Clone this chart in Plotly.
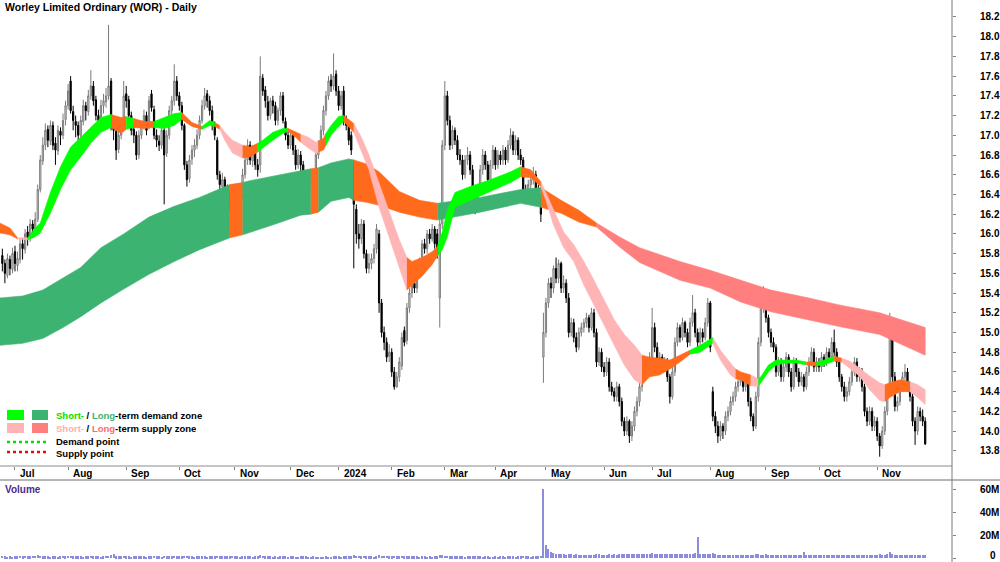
import plotly.graph_objects as go

title = "Worley Limited Ordinary (WOR) - Daily"

# first trading day of each month (trading-day index) and labels
month_idx = [5, 26, 49, 70, 92, 114, 133, 154, 175, 195, 215, 238, 257, 280, 302, 323, 346]
month_lbl = ['Jul', 'Aug', 'Sep', 'Oct', 'Nov', 'Dec', '2024', 'Feb', 'Mar', 'Apr', 'May',
             'Jun', 'Jul', 'Aug', 'Sep', 'Oct', 'Nov']
price_ticks = [13.8, 14.0, 14.2, 14.4, 14.6, 14.8, 15.0, 15.2, 15.4, 15.6, 15.8, 16.0,
               16.2, 16.4, 16.6, 16.8, 17.0, 17.2, 17.4, 17.6, 17.8, 18.0, 18.2]
vol_ticks = [0, 20, 40, 60]
vol_tick_text = ['0', '20M', '40M', '60M']

opens = [
    15.78,15.70,15.58,15.74,15.64,15.82,15.68,15.74,15.90,15.84,
    16.02,15.96,16.10,16.04,16.15,16.45,16.74,16.90,17.06,16.94,
    17.10,16.92,16.84,17.04,17.00,17.16,17.30,17.55,17.24,17.14,
    17.10,17.00,17.14,17.30,17.24,17.40,17.50,17.36,17.20,17.14,
    17.30,17.34,17.40,17.55,17.10,17.04,16.86,17.00,17.10,17.42,
    17.36,17.20,17.06,17.00,16.80,17.00,17.10,17.20,17.10,17.42,
    17.26,17.00,16.94,16.90,17.05,16.82,17.00,17.25,17.35,17.55,
    17.40,17.30,17.10,16.70,16.56,16.76,16.85,16.90,17.00,17.15,
    17.30,17.42,17.35,17.25,17.10,16.95,16.60,16.48,16.55,16.44,
    16.40,16.30,16.14,16.25,16.34,16.40,16.60,16.75,16.90,16.74,
    16.85,16.70,16.70,17.58,17.46,17.34,17.20,17.35,17.30,17.15,
    17.25,17.40,17.14,17.00,16.90,17.00,16.85,16.70,16.80,16.70,
    16.55,16.44,16.55,16.60,16.55,16.80,16.90,17.05,17.25,17.40,
    17.56,17.50,17.62,17.45,17.30,17.45,17.15,17.10,17.00,16.70,
    16.25,16.00,15.95,16.10,15.80,15.65,15.70,15.75,15.85,16.00,
    15.30,15.00,14.90,14.76,14.80,14.60,14.45,14.55,14.66,15.02,
    14.92,15.25,15.40,15.50,15.45,15.60,15.70,15.90,15.85,16.00,
    15.95,16.05,16.00,15.35,16.10,16.90,17.40,17.15,16.90,17.05,
    16.95,16.80,16.75,16.60,16.75,16.80,16.65,16.40,16.30,16.45,
    16.65,16.80,16.70,16.55,16.70,16.85,16.70,16.80,16.75,16.85,
    16.75,16.90,17.00,16.85,16.95,16.80,16.75,16.45,16.40,16.50,
    16.55,16.60,16.45,16.35,14.75,15.00,15.30,15.50,15.45,15.65,
    15.55,15.70,15.45,15.50,15.35,15.00,15.10,14.95,14.85,15.00,
    15.05,15.10,15.15,15.05,15.20,15.00,14.70,14.80,14.65,14.60,
    14.70,14.45,14.40,14.35,14.45,14.30,14.10,14.00,14.10,13.95,
    14.05,14.20,14.30,14.45,14.55,14.70,14.60,14.75,15.05,14.85,
    14.70,14.75,14.65,14.70,14.55,14.35,14.60,14.90,15.05,14.95,
    15.10,15.00,14.90,15.10,15.20,15.00,14.90,15.00,14.95,15.10,
    15.30,14.40,14.15,14.05,13.95,14.05,14.00,14.15,14.20,14.30,
    14.35,14.45,14.50,14.55,14.45,14.50,14.30,14.15,14.05,14.35,
    14.90,15.25,15.40,15.15,15.00,14.90,14.85,14.60,14.70,14.55,
    14.65,14.75,14.60,14.45,14.70,14.60,14.50,14.55,14.45,14.60,
    14.70,14.80,14.65,14.70,14.65,14.75,14.70,14.80,14.75,14.90,
    14.80,14.70,14.55,14.45,14.35,14.40,14.50,14.60,14.70,14.55,
    14.60,14.45,14.20,14.10,14.20,14.05,14.10,13.95,13.85,14.00,
    14.20,14.40,15.10,14.55,14.25,14.30,14.45,14.55,14.60,14.45,
    14.35,14.10,14.00,14.20,14.15,14.10,
]

highs = [
    15.85,15.74,15.80,15.78,15.86,15.88,15.82,15.95,15.96,16.05,
    16.08,16.15,16.14,16.22,16.50,16.80,16.98,17.12,17.10,17.15,
    17.14,16.98,17.10,17.08,17.22,17.35,17.52,17.60,17.30,17.20,
    17.14,17.20,17.36,17.34,17.46,17.66,17.55,17.40,17.26,17.36,
    17.42,17.48,18.12,17.58,17.16,17.08,17.05,17.16,17.55,17.50,
    17.40,17.24,17.12,17.04,17.05,17.15,17.26,17.24,17.40,17.46,
    17.30,17.06,17.00,17.10,17.08,17.05,17.30,17.40,17.72,17.60,
    17.44,17.34,17.12,16.74,16.80,16.90,16.96,17.06,17.20,17.36,
    17.48,17.46,17.40,17.30,17.14,16.98,16.64,16.62,16.58,16.50,
    16.44,16.34,16.32,16.42,16.46,16.66,16.80,16.96,16.94,16.90,
    16.90,16.76,17.80,17.62,17.50,17.40,17.38,17.40,17.34,17.28,
    17.44,17.44,17.18,17.06,17.05,17.04,16.90,16.86,16.84,16.74,
    16.60,16.60,16.66,16.64,16.85,16.95,17.10,17.30,17.45,17.60,
    17.62,17.83,17.66,17.50,17.45,17.50,17.20,17.14,17.04,16.75,
    16.30,16.10,16.15,16.14,15.84,15.80,15.80,15.90,16.10,16.04,
    15.34,15.06,14.95,14.88,14.84,14.65,14.60,14.75,15.00,15.06,
    15.30,15.45,15.56,15.55,15.65,15.76,15.94,15.95,16.04,16.05,
    16.10,16.08,16.05,16.15,16.95,17.55,17.45,17.20,17.10,17.08,
    17.00,16.86,16.80,16.80,16.88,16.84,16.70,16.45,16.50,16.70,
    16.86,16.84,16.74,16.75,16.90,16.88,16.85,16.84,16.90,16.88,
    16.95,17.07,17.04,17.00,16.98,16.86,16.78,16.50,16.55,16.62,
    16.68,16.64,16.50,16.40,15.20,15.35,15.55,15.56,15.68,15.76,
    15.74,15.72,15.58,15.54,15.40,15.15,15.14,15.00,15.05,15.10,
    15.14,15.20,15.18,15.25,15.24,15.04,14.85,14.84,14.70,14.75,
    14.74,14.50,14.44,14.50,14.48,14.34,14.14,14.15,14.12,14.10,
    14.25,14.35,14.50,14.60,14.74,14.74,14.80,15.25,15.10,14.90,
    14.80,14.78,14.75,14.74,14.58,14.65,14.95,15.10,15.08,15.15,
    15.12,15.04,15.15,15.38,15.24,15.04,15.05,15.04,15.15,15.35,
    15.32,14.45,14.20,14.10,14.10,14.08,14.20,14.25,14.35,14.40,
    14.50,14.55,14.60,14.58,14.54,14.52,14.34,14.18,14.40,14.95,
    15.30,15.47,15.44,15.18,15.04,14.95,14.88,14.75,14.74,14.70,
    14.80,14.78,14.64,14.75,14.74,14.64,14.60,14.58,14.65,14.75,
    14.85,14.84,14.75,14.74,14.80,14.78,14.85,14.84,14.95,15.03,
    14.84,14.74,14.58,14.50,14.45,14.55,14.65,14.75,14.74,14.65,
    14.64,14.48,14.24,14.25,14.24,14.15,14.14,13.98,14.05,14.25,
    14.45,15.20,15.14,14.60,14.35,14.50,14.60,14.68,14.64,14.50,
    14.38,14.14,14.25,14.24,14.22,14.14,
]

lows = [
    15.62,15.50,15.55,15.58,15.60,15.62,15.62,15.70,15.74,15.80,
    15.88,15.92,15.96,16.00,16.12,16.42,16.70,16.85,16.88,16.90,
    16.85,16.70,16.80,16.90,16.96,17.10,17.26,17.22,17.05,16.98,
    16.92,16.96,17.10,17.15,17.20,17.36,17.30,17.15,17.08,17.10,
    17.22,17.28,17.36,17.05,16.95,16.75,16.82,16.96,17.06,17.28,
    17.15,17.00,16.92,16.75,16.76,16.96,17.06,17.00,17.06,17.24,
    16.96,16.88,16.84,16.86,16.30,16.78,16.96,17.20,17.30,17.35,
    17.25,17.05,16.65,16.48,16.52,16.70,16.78,16.86,16.96,17.12,
    17.26,17.28,17.20,17.05,16.95,16.55,16.40,16.44,16.38,16.32,
    16.22,16.05,16.10,16.20,16.28,16.36,16.56,16.70,16.70,16.68,
    16.65,16.58,16.62,17.40,17.28,17.15,17.16,17.22,17.10,17.10,
    17.20,17.12,16.95,16.86,16.86,16.80,16.65,16.66,16.62,16.50,
    16.35,16.40,16.50,16.45,16.52,16.76,16.86,17.00,17.20,17.36,
    17.44,17.46,17.40,17.25,17.26,17.10,17.05,16.90,16.80,15.65,
    15.90,15.85,15.90,15.75,15.60,15.60,15.64,15.70,15.80,15.20,
    14.95,14.82,14.70,14.70,14.55,14.42,14.44,14.50,14.62,14.86,
    14.88,15.20,15.35,15.40,15.40,15.55,15.65,15.80,15.80,15.90,
    15.92,15.85,15.75,15.05,16.05,16.85,17.10,16.85,16.86,16.90,
    16.75,16.70,16.55,16.56,16.70,16.60,16.35,16.20,16.26,16.40,
    16.60,16.65,16.50,16.50,16.66,16.65,16.66,16.70,16.70,16.70,
    16.72,16.86,16.80,16.80,16.75,16.70,16.40,16.32,16.36,16.45,
    16.50,16.40,16.30,16.12,14.49,14.95,15.25,15.35,15.40,15.50,
    15.50,15.40,15.40,15.30,14.95,14.96,14.90,14.80,14.82,14.96,
    15.00,15.05,15.00,15.02,14.95,14.65,14.66,14.60,14.55,14.56,
    14.40,14.36,14.30,14.30,14.25,14.05,13.95,13.96,13.88,13.90,
    14.00,14.15,14.25,14.40,14.50,14.55,14.56,14.70,14.80,14.65,
    14.66,14.60,14.60,14.50,14.28,14.32,14.56,14.86,14.90,14.92,
    14.95,14.85,14.86,15.06,14.95,14.85,14.86,14.90,14.92,15.06,
    14.80,14.10,13.98,13.88,13.90,13.92,13.96,14.10,14.16,14.26,
    14.30,14.40,14.46,14.40,14.40,14.25,14.10,14.00,14.02,14.30,
    14.86,15.20,15.10,14.95,14.85,14.80,14.55,14.56,14.50,14.50,
    14.60,14.55,14.40,14.42,14.55,14.45,14.46,14.40,14.42,14.56,
    14.66,14.60,14.60,14.60,14.60,14.65,14.66,14.70,14.70,14.76,
    14.65,14.50,14.40,14.30,14.30,14.36,14.46,14.56,14.50,14.50,
    14.40,14.15,14.05,14.06,14.00,14.00,13.90,13.74,13.82,13.96,
    14.16,14.36,14.50,14.20,14.20,14.26,14.40,14.50,14.40,14.30,
    14.05,13.86,13.96,14.10,14.05,13.86,
]

closes = [
    15.70,15.60,15.75,15.65,15.80,15.70,15.75,15.90,15.85,16.00,
    15.95,16.10,16.05,16.15,16.45,16.75,16.90,17.05,16.95,17.10,
    16.90,16.85,17.05,17.00,17.15,17.30,17.45,17.25,17.15,17.10,
    17.00,17.15,17.30,17.25,17.40,17.50,17.35,17.20,17.15,17.30,
    17.35,17.40,17.50,17.10,17.05,16.85,17.00,17.10,17.40,17.35,
    17.20,17.05,17.00,16.80,17.00,17.10,17.20,17.05,17.35,17.28,
    17.00,16.95,16.90,17.05,16.80,17.00,17.25,17.35,17.55,17.40,
    17.30,17.10,16.70,16.55,16.75,16.85,16.90,17.00,17.15,17.30,
    17.40,17.35,17.25,17.10,17.00,16.60,16.50,16.55,16.45,16.40,
    16.30,16.15,16.25,16.35,16.40,16.60,16.75,16.90,16.75,16.85,
    16.70,16.65,17.60,17.45,17.35,17.20,17.35,17.30,17.15,17.25,
    17.40,17.15,17.00,16.90,17.00,16.85,16.70,16.80,16.70,16.55,
    16.45,16.55,16.60,16.55,16.80,16.90,17.05,17.25,17.40,17.55,
    17.50,17.60,17.45,17.30,17.40,17.15,17.10,16.95,16.85,16.30,
    16.00,15.95,16.10,15.80,15.65,15.70,15.75,15.85,16.05,15.30,
    15.00,14.90,14.75,14.80,14.60,14.45,14.55,14.70,14.95,14.90,
    15.25,15.40,15.50,15.45,15.60,15.70,15.90,15.85,16.00,15.95,
    16.05,15.90,15.80,16.10,16.90,17.40,17.15,16.90,17.05,16.95,
    16.80,16.75,16.60,16.75,16.80,16.65,16.40,16.30,16.45,16.65,
    16.80,16.70,16.55,16.70,16.85,16.70,16.80,16.75,16.85,16.75,
    16.90,17.00,16.85,16.95,16.80,16.75,16.45,16.40,16.50,16.55,
    16.60,16.45,16.35,16.20,15.00,15.30,15.50,15.45,15.65,15.55,
    15.70,15.45,15.50,15.35,15.00,15.10,14.95,14.85,15.00,15.05,
    15.10,15.15,15.05,15.20,15.00,14.70,14.80,14.65,14.60,14.70,
    14.45,14.40,14.35,14.45,14.30,14.10,14.00,14.10,13.95,14.05,
    14.20,14.30,14.45,14.55,14.70,14.60,14.75,15.05,14.85,14.70,
    14.75,14.65,14.70,14.55,14.35,14.60,14.90,15.05,14.95,15.10,
    15.00,14.90,15.10,15.20,15.00,14.90,15.00,14.95,15.10,15.30,
    14.85,14.15,14.05,13.95,14.05,14.00,14.15,14.20,14.30,14.35,
    14.45,14.50,14.55,14.45,14.50,14.30,14.15,14.05,14.35,14.90,
    15.25,15.40,15.15,15.00,14.90,14.85,14.60,14.70,14.55,14.65,
    14.75,14.60,14.45,14.70,14.60,14.50,14.55,14.45,14.60,14.70,
    14.80,14.65,14.70,14.65,14.75,14.70,14.80,14.75,14.90,14.80,
    14.70,14.55,14.45,14.35,14.40,14.50,14.60,14.70,14.55,14.60,
    14.45,14.20,14.10,14.20,14.05,14.10,13.95,13.85,14.00,14.20,
    14.40,15.05,14.55,14.25,14.30,14.45,14.55,14.60,14.45,14.35,
    14.10,14.00,14.20,14.15,14.10,13.87,
]

volume_m = [
    1.8,1.5,1.3,1.6,1.2,1.4,1.7,2.1,1.5,1.9,1.6,1.4,1.8,2.0,2.4,1.9,1.7,1.5,1.6,1.3,
    1.4,1.6,1.2,1.5,1.8,1.6,1.9,2.2,1.7,1.5,1.4,1.6,1.3,1.5,1.7,1.9,1.6,1.4,1.5,1.3,
    1.6,1.8,2.1,2.4,3.6,1.7,1.5,1.4,1.8,1.6,1.5,1.3,1.4,1.6,1.5,1.7,1.4,1.3,1.5,1.6,
    1.8,1.5,1.4,1.3,2.0,1.6,1.5,1.4,1.9,1.6,1.5,1.7,2.1,1.8,1.6,1.4,1.3,1.5,1.4,1.6,
    1.5,1.3,1.4,1.6,1.5,1.9,1.7,1.5,1.4,1.6,1.5,1.8,1.6,1.4,1.3,1.5,1.4,1.6,1.5,1.3,
    1.4,1.5,2.3,1.8,1.6,1.4,1.5,1.3,1.4,1.2,1.5,1.6,1.4,1.3,1.5,1.4,1.3,1.2,1.4,1.5,
    1.6,1.3,1.2,1.4,1.3,1.1,1.0,1.2,1.4,1.3,1.2,1.6,1.4,1.5,1.3,1.6,1.4,1.5,1.7,2.6,
    2.0,1.8,1.6,1.9,1.7,1.5,1.4,1.3,1.5,2.4,2.1,1.9,1.8,1.6,1.7,1.9,1.6,1.5,1.8,1.6,
    1.7,1.5,1.4,1.6,1.5,1.3,1.4,1.5,1.3,1.4,1.2,1.5,1.6,2.8,2.5,2.2,1.9,1.7,1.6,1.5,
    1.4,1.6,1.5,1.3,1.4,1.5,1.7,1.6,1.4,1.5,1.3,1.4,1.5,1.3,1.2,1.4,1.3,1.5,1.4,1.3,
    1.4,1.6,1.5,1.3,1.4,1.5,1.8,1.6,1.4,1.3,1.5,1.6,1.7,1.9,60.5,11.2,7.6,5.1,4.2,3.6,
    3.4,3.8,3.2,3.1,3.9,3.3,3.0,3.2,2.9,3.1,2.8,3.0,2.9,2.7,3.1,3.6,3.2,3.0,2.8,3.1,
    3.3,3.0,3.2,2.9,3.4,3.6,3.8,3.5,3.9,3.7,3.4,3.6,3.3,3.8,3.5,3.9,3.6,4.2,3.8,3.5,
    3.6,3.4,3.8,3.5,3.9,3.6,3.7,3.9,3.5,3.8,3.6,3.4,3.7,3.9,4.1,18.2,3.6,3.4,3.3,3.5,
    3.8,4.2,3.4,3.1,2.9,2.8,2.6,2.7,2.5,2.8,2.6,2.4,2.5,2.7,2.6,2.8,3.0,2.9,3.2,3.5,
    3.1,2.9,3.3,2.8,2.7,2.6,2.9,2.5,2.7,2.4,2.6,2.5,2.8,2.6,2.7,2.5,2.9,5.0,3.0,2.6,
    2.8,2.6,2.7,2.5,2.8,2.6,2.4,2.7,2.5,2.9,2.6,2.8,2.7,2.5,2.4,2.6,2.5,2.7,2.4,2.6,
    2.7,2.9,2.6,2.5,2.8,2.6,2.9,3.2,2.8,3.0,3.4,5.3,3.6,3.1,2.9,2.7,2.6,2.5,2.8,2.7,
    3.0,2.9,2.6,2.8,2.5,2.7,
]

# Short-term zone: sample index, upper edge, lower edge, state of the following stretch
# D = demand, S = supply, T = transition
st_idx = [-1, 3, 6, 10, 13, 15, 19, 23, 27, 31, 35, 39, 43, 47, 49, 52, 56, 60, 64, 68,
          71, 75, 79, 82, 84, 86, 88, 91, 95, 98, 101, 103, 107, 111, 113, 116, 118, 121, 124, 125,
          127, 128, 130, 133, 135, 137, 139, 142, 145, 149, 153, 157, 160, 162, 166, 170, 172, 174, 176, 179,
          185, 193, 201, 205, 209, 213, 215, 218, 222, 226, 230, 234, 238, 242, 246, 250, 253, 256, 260, 264,
          268, 272, 276, 281, 284, 288, 290, 292, 296, 299, 300, 303, 306, 310, 314, 318, 322, 325, 329, 332,
          335, 339, 343, 347, 349, 351, 355, 359, 362, 365]
st_hi = [16.11, 16.06, 15.96, 15.96, 16.06, 16.11, 16.42, 16.68, 16.88, 16.98, 17.08, 17.18, 17.21, 17.18, 17.19, 17.17, 17.14, 17.14, 17.18, 17.22,
         17.23, 17.13, 17.09, 17.15, 17.13, 17.10, 17.03, 16.95, 16.90, 16.88, 16.92, 16.95, 17.03, 17.07, 17.07, 17.03, 17.01, 16.98, 16.93, 16.94,
         16.97, 17.02, 17.10, 17.19, 17.20, 17.16, 17.12, 16.98, 16.80, 16.52, 16.24, 15.94, 15.76, 15.72, 15.76, 15.82, 15.87, 16.02, 16.24, 16.42,
         16.48, 16.55, 16.63, 16.68, 16.65, 16.53, 16.42, 16.24, 16.02, 15.89, 15.72, 15.53, 15.33, 15.13, 14.98, 14.87, 14.77, 14.75, 14.74, 14.72,
         14.77, 14.82, 14.87, 14.95, 14.82, 14.69, 14.63, 14.60, 14.57, 14.53, 14.55, 14.67, 14.72, 14.72, 14.72, 14.70, 14.70, 14.72, 14.76, 14.74,
         14.71, 14.64, 14.56, 14.49, 14.47, 14.49, 14.52, 14.50, 14.47, 14.42]
st_lo = [16.01, 15.99, 15.95, 15.94, 15.97, 16.01, 16.21, 16.45, 16.65, 16.78, 16.92, 17.03, 17.08, 17.02, 17.06, 17.08, 17.07, 17.08, 17.07, 17.10,
         17.16, 17.09, 17.06, 17.10, 17.09, 17.06, 16.95, 16.82, 16.77, 16.78, 16.83, 16.87, 16.95, 17.02, 17.04, 16.98, 16.93, 16.87, 16.82, 16.83,
         16.85, 16.90, 17.00, 17.09, 17.14, 17.08, 17.03, 16.85, 16.65, 16.27, 15.97, 15.66, 15.43, 15.48, 15.57, 15.69, 15.77, 15.84, 15.97, 16.27,
         16.34, 16.43, 16.52, 16.58, 16.57, 16.48, 16.34, 16.09, 15.86, 15.72, 15.48, 15.28, 15.08, 14.87, 14.67, 14.52, 14.47, 14.55, 14.57, 14.63,
         14.70, 14.78, 14.80, 14.89, 14.72, 14.57, 14.53, 14.52, 14.46, 14.45, 14.49, 14.60, 14.67, 14.69, 14.69, 14.67, 14.66, 14.67, 14.71, 14.70,
         14.64, 14.56, 14.42, 14.31, 14.30, 14.34, 14.40, 14.40, 14.34, 14.27]
st_state = ['T', 'T', 'S', 'D', 'D', 'D', 'D', 'D', 'D', 'D', 'D', 'D', 'T', 'T', 'D', 'T', 'T', 'D', 'D', 'D',
            'T', 'T', 'D', 'D', 'T', 'S', 'S', 'S', 'T', 'T', 'D', 'D', 'D', 'D', 'T', 'T', 'S', 'S', 'S', 'T',
            'T', 'D', 'D', 'D', 'T', 'T', 'S', 'S', 'S', 'S', 'S', 'S', 'T', 'T', 'T', 'T', 'D', 'D', 'D', 'D',
            'D', 'D', 'D', 'T', 'T', 'S', 'S', 'S', 'S', 'S', 'S', 'S', 'S', 'S', 'S', 'S', 'T', 'T', 'T', 'T',
            'T', 'D', 'D', 'S', 'S', 'S', 'T', 'T', 'S', 'D', 'D', 'D', 'D', 'D', 'D', 'T', 'D', 'D', 'T', 'S',
            'S', 'S', 'S', 'S', 'T', 'T', 'T', 'S', 'S', 'S']

# Long-term zone
lt_idx = [-1, 8, 16, 24, 31, 39, 48, 58, 68, 78, 90, 95, 98, 108, 118, 122, 125, 130, 137, 139,
          144, 149, 157, 165, 172, 180, 189, 205, 213, 221, 228, 235, 244, 252, 268, 280,
          292, 304, 319, 331, 347, 365]
lt_hi = [15.35, 15.37, 15.43, 15.55, 15.66, 15.86, 16.00, 16.17, 16.28, 16.37, 16.50, 16.52, 16.54, 16.59, 16.64, 16.66, 16.67, 16.72, 16.76, 16.75,
         16.71, 16.63, 16.43, 16.34, 16.31, 16.34, 16.37, 16.45, 16.47, 16.34, 16.24, 16.11, 15.97, 15.86, 15.72, 15.63,
         15.53, 15.43, 15.35, 15.28, 15.20, 15.05]
lt_lo = [14.87, 14.89, 14.94, 15.05, 15.16, 15.30, 15.44, 15.59, 15.72, 15.84, 15.96, 15.99, 16.01, 16.10, 16.19, 16.20, 16.22, 16.33, 16.37, 16.34,
         16.32, 16.29, 16.22, 16.17, 16.14, 16.18, 16.22, 16.31, 16.27, 16.21, 16.12, 16.07, 15.87, 15.71, 15.53, 15.45,
         15.31, 15.21, 15.13, 15.06, 14.98, 14.77]
lt_state = ['D', 'D', 'D', 'D', 'D', 'D', 'D', 'D', 'D', 'D', 'T', 'D', 'D', 'D', 'D', 'T', 'D', 'D', 'D', 'T',
            'T', 'T', 'T', 'T', 'D', 'D', 'D', 'D', 'T', 'T', 'T', 'S', 'S', 'S', 'S', 'S',
            'S', 'S', 'S', 'S', 'S', 'S']

# ---------------------------------------------------------------- styling
W, H = 1000, 562
PLOT_W = 952
MAIN_BOTTOM_PX = 466
VOL_TOP_PX = 480
FONT = 'Liberation Sans'

def px_x(p):
    return p / PLOT_W

def px_y(p):
    return 1 - p / H

ST_COL = {'D': '#00FF00', 'S': '#FFB5B5', 'T': '#FF6A1C'}
LT_COL = {'D': '#3CB371', 'S': '#FF7F7F', 'T': '#FF6A1C'}

fig = go.Figure()


def add_zone(idx, hi, lo, state, colors):
    n = len(idx)
    start = 0
    for k in range(1, n):
        if k == n - 1 or state[k] != state[start]:
            xs = idx[start:k + 1]
            ys_hi = hi[start:k + 1]
            ys_lo = lo[start:k + 1]
            col = colors[state[start]]
            fig.add_trace(go.Scatter(
                x=xs + xs[::-1], y=ys_hi + ys_lo[::-1], fill='toself', mode='lines',
                line=dict(color=col, width=0.6), fillcolor=col, hoverinfo='skip',
                xaxis='x', yaxis='y'))
            start = k


add_zone(lt_idx, lt_hi, lt_lo, lt_state, LT_COL)
add_zone(st_idx, st_hi, st_lo, st_state, ST_COL)

days = list(range(len(closes)))
fig.add_trace(go.Candlestick(
    x=days, open=opens, high=highs, low=lows, close=closes,
    increasing=dict(line=dict(color='#7A7A7A', width=1), fillcolor='#E8E8E8'),
    decreasing=dict(line=dict(color='#000000', width=1), fillcolor='#000000'),
    whiskerwidth=0, hoverinfo='skip', xaxis='x', yaxis='y'))

fig.add_trace(go.Bar(x=list(range(len(volume_m))), y=volume_m, marker=dict(color='#8C8CDC', line=dict(width=0)),
                     width=0.45, hoverinfo='skip', xaxis='x2', yaxis='y2'))

x_range = [-0.93, 375.6]
tick_font = dict(family=FONT, size=10, color='#000000', weight='bold')

fig.update_layout(
    width=W, height=H, margin=dict(l=0, r=W - PLOT_W, t=0, b=0),
    paper_bgcolor='white', plot_bgcolor='white', showlegend=False,
    xaxis=dict(domain=[0, 1], range=x_range, tickvals=month_idx, ticktext=[''] * len(month_idx),
               ticks='outside', ticklen=3, tickcolor='#808080', showgrid=False, zeroline=False,
               showline=False, rangeslider=dict(visible=False), anchor='y'),
    yaxis=dict(domain=[px_y(MAIN_BOTTOM_PX), 1], range=[13.646, 18.372], side='right',
               tickvals=price_ticks, ticktext=['%.1f' % v for v in price_ticks],
               ticks='outside', ticklen=3, tickcolor='#808080', showgrid=False, zeroline=False,
               showline=False, tickfont=tick_font, ticklabelstandoff=22, anchor='x'),
    xaxis2=dict(domain=[0, 1], range=x_range, showticklabels=False, ticks='', showgrid=False,
                zeroline=False, showline=False, anchor='y2'),
    yaxis2=dict(domain=[0, px_y(VOL_TOP_PX)], range=[-3.5, 68.8], side='right',
                tickvals=vol_ticks, ticktext=[''] + vol_tick_text[1:], ticks='outside', ticklen=3,
                tickcolor='#808080', showgrid=False, zeroline=False, showline=False,
                tickfont=tick_font, ticklabelstandoff=22, anchor='x2'),
    bargap=0,
)

shapes = [
    dict(type='line', xref='paper', yref='paper', x0=0, x1=1, y0=px_y(MAIN_BOTTOM_PX), y1=px_y(MAIN_BOTTOM_PX),
         line=dict(color='#8C8C8C', width=1)),
    dict(type='line', xref='paper', yref='paper', x0=0, x1=W / PLOT_W, y0=px_y(VOL_TOP_PX), y1=px_y(VOL_TOP_PX),
         line=dict(color='#6E6E6E', width=1)),
    dict(type='line', xref='paper', yref='paper', x0=1, x1=1, y0=0, y1=1,
         line=dict(color='#7A7A7A', width=1)),
    # legend swatches
    dict(type='rect', xref='paper', yref='paper', x0=px_x(7), x1=px_x(24), y0=px_y(420), y1=px_y(410),
         fillcolor=ST_COL['D'], line=dict(width=0)),
    dict(type='rect', xref='paper', yref='paper', x0=px_x(32), x1=px_x(48), y0=px_y(420), y1=px_y(410),
         fillcolor=LT_COL['D'], line=dict(width=0)),
    dict(type='rect', xref='paper', yref='paper', x0=px_x(7), x1=px_x(24), y0=px_y(433), y1=px_y(423),
         fillcolor=ST_COL['S'], line=dict(width=0)),
    dict(type='rect', xref='paper', yref='paper', x0=px_x(32), x1=px_x(48), y0=px_y(433), y1=px_y(423),
         fillcolor=LT_COL['S'], line=dict(width=0)),
    dict(type='line', xref='paper', yref='paper', x0=px_x(7), x1=px_x(47), y0=px_y(442), y1=px_y(442),
         line=dict(color='#00E000', width=2.5, dash='dot')),
    dict(type='line', xref='paper', yref='paper', x0=px_x(7), x1=px_x(47), y0=px_y(452), y1=px_y(452),
         line=dict(color='#FF0000', width=2.5, dash='dot')),
]
fig.update_layout(shapes=shapes)

ann = []
ann.append(dict(text=title, xref='paper', yref='paper', x=px_x(3), y=px_y(7), xanchor='left', yanchor='middle',
                showarrow=False, font=dict(family=FONT, size=10.5, color='#000000', weight='bold')))
ann.append(dict(text='Volume', xref='paper', yref='paper', x=px_x(3), y=px_y(489), xanchor='left', yanchor='middle',
                showarrow=False, font=dict(family=FONT, size=10, color='#4A2C8C', weight='bold')))
# zero label of the volume axis (kept as an annotation so it stays inside the page)
ann.append(dict(text=vol_tick_text[0], xref='paper', yref='y2', x=px_x(998), y=vol_ticks[0], xanchor='right',
                yanchor='middle', yshift=3, showarrow=False, font=tick_font))
for mi, ml in zip(month_idx, month_lbl):
    ann.append(dict(text=ml, xref='x', yref='paper', x=mi, y=px_y(473.5), xanchor='left', yanchor='middle',
                    xshift=3, showarrow=False, font=dict(family=FONT, size=10, color='#000000', weight='bold')))
leg_font = dict(family=FONT, size=9.5, color='#000000', weight='bold')
legend_rows = [
    ('<span style="color:#00E000">Short-</span> / <span style="color:#3CB371">Long</span>-term demand zone', 415),
    ('<span style="color:#FFB0B0">Short-</span> / <span style="color:#FF6B6B">Long</span>-term supply zone', 428),
    ('Demand point', 441),
    ('Supply point', 453),
]
for txt, py in legend_rows:
    ann.append(dict(text=txt, xref='paper', yref='paper', x=px_x(54), y=px_y(py), xanchor='left',
                    yanchor='middle', showarrow=False, font=leg_font))
fig.update_layout(annotations=ann)

fig.write_html("out.html")
